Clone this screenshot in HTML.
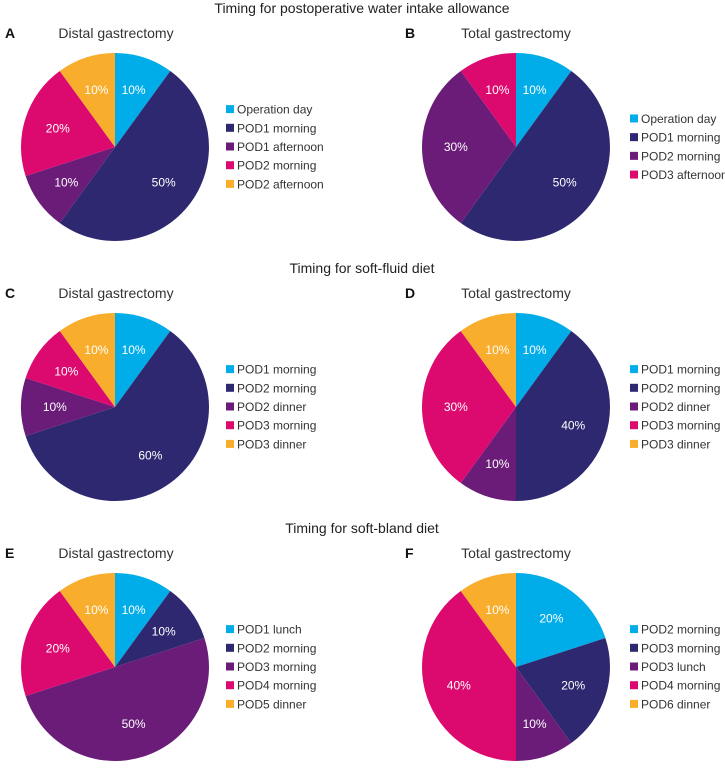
<!DOCTYPE html>
<html><head><meta charset="utf-8"><style>
body{margin:0;background:#fff;width:725px;height:763px;overflow:hidden;font-family:"Liberation Sans",sans-serif}
</style></head><body>
<svg id="chart" width="725" height="763" xmlns="http://www.w3.org/2000/svg"></svg>
<script>
const headings=["Timing for postoperative water intake allowance","Timing for soft-fluid diet","Timing for soft-bland diet"];
const panelLetters=["A","B","C","D","E","F"];
const panelTitles=["Distal gastrectomy","Total gastrectomy","Distal gastrectomy","Total gastrectomy","Distal gastrectomy","Total gastrectomy"];
const catsA=["Operation day","POD1 morning","POD1 afternoon","POD2 morning","POD2 afternoon"];
const valsA=[10,50,10,20,10];
const catsB=["Operation day","POD1 morning","POD2 morning","POD3 afternoon"];
const valsB=[10,50,30,10];
const catsC=["POD1 morning","POD2 morning","POD2 dinner","POD3 morning","POD3 dinner"];
const valsC=[10,60,10,10,10];
const catsD=["POD1 morning","POD2 morning","POD2 dinner","POD3 morning","POD3 dinner"];
const valsD=[10,40,10,30,10];
const catsE=["POD1 lunch","POD2 morning","POD3 morning","POD4 morning","POD5 dinner"];
const valsE=[10,10,50,20,10];
const catsF=["POD2 morning","POD3 morning","POD3 lunch","POD4 morning","POD6 dinner"];
const valsF=[20,20,10,40,10];
const colors5=["#00ade9","#2e2870","#6a1c78","#dc0a6f","#f8ae2c"];
const colors4=["#00ade9","#2e2870","#6a1c78","#dc0a6f"];

const NS="http://www.w3.org/2000/svg";
const svg=document.getElementById('chart');
function mk(tag,attrs,parent){const e=document.createElementNS(NS,tag);for(const k in attrs)e.setAttribute(k,attrs[k]);(parent||svg).appendChild(e);return e;}

headings.forEach((h,i)=>{
  const t=mk('text',{x:362,y:13+i*260,'text-anchor':'middle','font-size':14,fill:'#222'});
  t.textContent=h;
  
  
});

const panels=[[catsA,valsA,colors5],[catsB,valsB,colors4],[catsC,valsC,colors5],[catsD,valsD,colors5],[catsE,valsE,colors5],[catsF,valsF,colors5]];
panels.forEach((p,i)=>{
  const col=i%2,row=Math.floor(i/2);
  const ox=col*400, oy=row*260;
  const cx=ox+115+col, cy=oy+147, r=94;
  const g=mk('g',{});
  
  
  const L=mk('text',{x:ox+5,y:oy+38,'font-size':14,'font-weight':'bold',fill:'#111'},g);
  L.textContent=panelLetters[i];
  
  
  const T=mk('text',{x:ox+116,y:oy+38,'text-anchor':'middle','font-size':14,fill:'#333'},g);
  T.textContent=panelTitles[i];
  
  
  const [cats,vals,cols]=p;
  const total=vals.reduce((a,b)=>a+b,0);
  let a0=0;
  vals.forEach((v,j)=>{
    const a1=a0+v/total*2*Math.PI;
    const x0=cx+r*Math.sin(a0),y0=cy-r*Math.cos(a0),x1=cx+r*Math.sin(a1),y1=cy-r*Math.cos(a1);
    const large=(a1-a0)>Math.PI?1:0;
    const s=mk('path',{d:`M${cx},${cy}L${x0},${y0}A${r},${r} 0 ${large} 1 ${x1},${y1}Z`,fill:cols[j]},g);
    
    
    const am=(a0+a1)/2, d=r*0.64;
    const lt=mk('text',{x:cx+d*Math.sin(am),y:cy-d*Math.cos(am)+4,'text-anchor':'middle','font-size':12,fill:'#fff'},g);
    lt.textContent=v+'%';
    
    
    a0=a1;
  });
  const n=cats.length, sp=18.7;
  const lx=col?ox+230:ox+226;
  cats.forEach((c,j)=>{
    const ly=cy+(j-(n-1)/2)*sp;
    const e=mk('g',{},g);
    
    
    mk('rect',{x:lx,y:ly-4.5,width:8,height:8,fill:cols[j]},e);
    const t=mk('text',{x:lx+11,y:ly+4,'font-size':12,fill:'#333'},e);
    t.textContent=c;
  });
});
</script>
</body></html>
